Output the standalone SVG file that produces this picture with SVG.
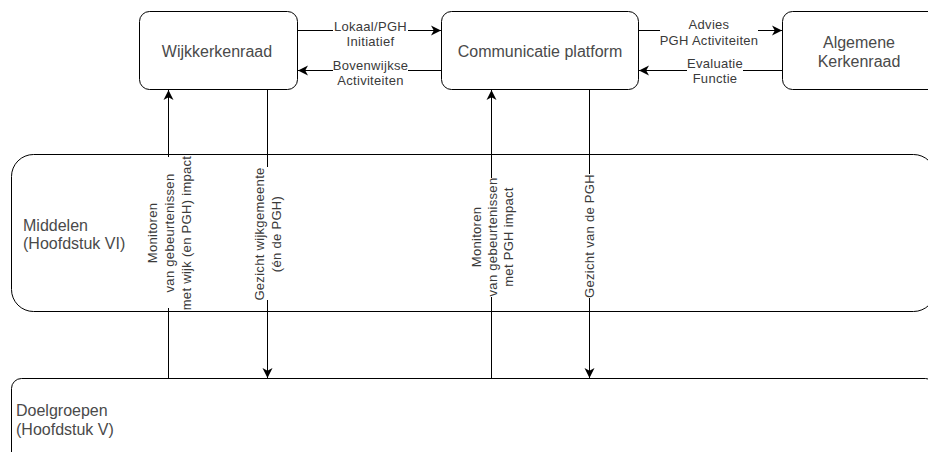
<svg xmlns="http://www.w3.org/2000/svg" width="928" height="452" viewBox="0 0 928 452">
  <style>
    .box { fill: #ffffff; stroke: #000000; stroke-width: 1; }
    .lbl { font-family: "Liberation Sans", Arial, Helvetica, sans-serif; font-size: 16px; fill: #4a4a4a; }
    .mid { text-anchor: middle; }
    .edge { fill: none; stroke: #000000; stroke-width: 1; }
    .arr { marker-end: url(#head); }
    .elbl { font-family: "Liberation Sans", Arial, Helvetica, sans-serif; font-size: 13px; letter-spacing: 0.3px; fill: #3a3a3a; text-anchor: middle; }
  </style>
  <defs>
    <marker id="head" viewBox="0 0 11 11" refX="11" refY="5.5" markerWidth="11" markerHeight="11" markerUnits="userSpaceOnUse" orient="auto">
      <path d="M1,0.5 L11,5.5 L1,10.5 L3.8,5.5 z" fill="#000000"/>
    </marker>
  </defs>
  <rect width="928" height="452" fill="#ffffff"/>

  <!-- lanes -->
  <g id="middelen">
    <rect class="box" x="11.5" y="154.5" width="924" height="157" rx="22" ry="22"/>
    <text class="lbl" x="23" y="230.5">Middelen</text>
    <text class="lbl" x="23" y="249">(Hoofdstuk VI)</text>
  </g>
  <g id="doelgroepen">
    <rect class="box" x="11.5" y="378.5" width="924" height="100" rx="10" ry="10"/>
    <text class="lbl" x="16" y="415.5">Doelgroepen</text>
    <text class="lbl" x="16" y="434.5">(Hoofdstuk V)</text>
  </g>

  <!-- top row nodes -->
  <g id="wijkkerkenraad">
    <rect class="box" x="139.5" y="11.5" width="158" height="78" rx="10" ry="10"/>
    <text class="lbl mid" x="217" y="57">Wijkkerkenraad</text>
  </g>
  <g id="communicatie">
    <rect class="box" x="441.5" y="11.5" width="197" height="78" rx="10" ry="10"/>
    <text class="lbl mid" x="540" y="57">Communicatie platform</text>
  </g>
  <g id="algemene">
    <rect class="box" x="782.5" y="11.5" width="158" height="78" rx="10" ry="10"/>
    <text class="lbl mid" x="859" y="47.5">Algemene</text>
    <text class="lbl mid" x="859" y="66.5">Kerkenraad</text>
  </g>

  <!-- connectors -->
  <g id="connectors">
    <path class="edge arr" d="M297.5 30.5 H333 M408 30.5 H441"/>
    <text class="elbl" x="370.5" y="30.5">Lokaal/PGH</text>
    <text class="elbl" x="370.5" y="46">Initiatief</text>

    <path class="edge arr" d="M441 70.5 H408 M333 70.5 H298"/>
    <text class="elbl" x="370.5" y="69.5">Bovenwijkse</text>
    <text class="elbl" x="370.5" y="85">Activiteiten</text>

    <path class="edge arr" d="M638.5 30.5 H660 M758 30.5 H782"/>
    <text class="elbl" x="709" y="29">Advies</text>
    <text class="elbl" x="709" y="44.5">PGH Activiteiten</text>

    <path class="edge arr" d="M782 70.5 H743 M687 70.5 H639"/>
    <text class="elbl" x="715" y="67.5">Evaluatie</text>
    <text class="elbl" x="715" y="83">Functie</text>

    <path class="edge arr" d="M168.5 378 V308 M168.5 157 V90"/>
    <g transform="translate(168.5 233) rotate(-90)">
      <text class="elbl" x="0" y="-12">Monitoren</text>
      <text class="elbl" x="0" y="5">van gebeurtenissen</text>
      <text class="elbl" x="0" y="22">met wijk (en PGH) impact</text>
    </g>

    <path class="edge arr" d="M267.5 90 V167 M267.5 300 V378"/>
    <g transform="translate(267.5 234) rotate(-90)">
      <text class="elbl" x="0" y="-4">Gezicht wijkgemeente</text>
      <text class="elbl" x="0" y="13">(én de PGH)</text>
    </g>

    <path class="edge arr" d="M491.5 378 V297 M491.5 178 V90"/>
    <g transform="translate(491.5 237) rotate(-90)">
      <text class="elbl" x="0" y="-11">Monitoren</text>
      <text class="elbl" x="0" y="5">van gebeurtenissen</text>
      <text class="elbl" x="0" y="21">met PGH impact</text>
    </g>

    <path class="edge arr" d="M589.5 90 V174 M589.5 298 V378"/>
    <g transform="translate(589.5 236) rotate(-90)">
      <text class="elbl" x="0" y="4.5">Gezicht van de PGH</text>
    </g>
  </g>
</svg>
